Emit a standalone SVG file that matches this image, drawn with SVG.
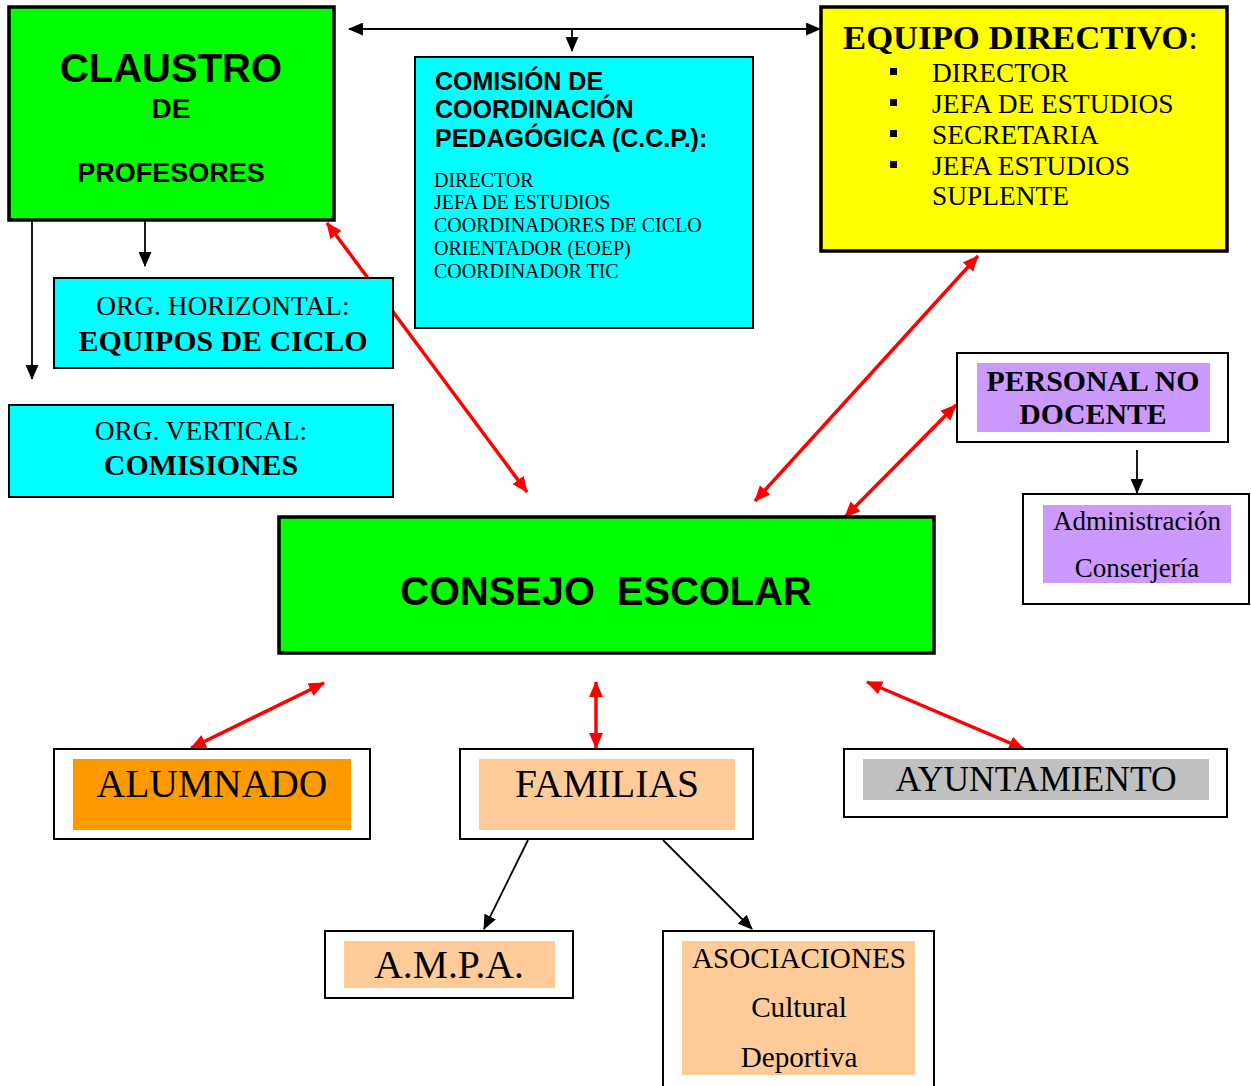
<svg xmlns="http://www.w3.org/2000/svg" width="1251" height="1086" viewBox="0 0 1251 1086">
<style>
.sans{font-family:"Liberation Sans",Arial,sans-serif;font-weight:bold;fill:#000}
.serif{font-family:"Liberation Serif","Times New Roman",serif;fill:#000}
.b{font-weight:bold}
.thick{stroke:#000;stroke-width:3.5}
.thin{stroke:#000;stroke-width:2}
.red{stroke:#ff0000;stroke-width:3.5;fill:none}
.blk{stroke:#000;stroke-width:1.8;fill:none}
</style>
<defs>
<marker id="ab" viewBox="0 0 14 12" refX="13" refY="6" markerWidth="15" markerHeight="13" markerUnits="userSpaceOnUse" orient="auto-start-reverse"><path d="M0,0 L14,6 L0,12 Z" fill="#000"/></marker>
<marker id="ar" viewBox="0 0 16 14" refX="15" refY="7" markerWidth="16" markerHeight="14" markerUnits="userSpaceOnUse" orient="auto-start-reverse"><path d="M0,0 L16,7 L0,14 Z" fill="#ff0000"/></marker>
</defs>
<rect width="1251" height="1086" fill="#fff"/>

<g id="connectors">
<line class="blk" x1="349" y1="29" x2="820" y2="29" marker-start="url(#ab)" marker-end="url(#ab)"/>
<line class="blk" x1="572" y1="29" x2="572" y2="51" marker-end="url(#ab)"/>
<line class="blk" x1="32" y1="221" x2="32" y2="379" marker-end="url(#ab)"/>
<line class="blk" x1="145" y1="221" x2="145" y2="266" marker-end="url(#ab)"/>
<line class="blk" x1="1137" y1="450" x2="1137" y2="493" marker-end="url(#ab)"/>
<line class="blk" x1="528" y1="840" x2="484" y2="929" marker-end="url(#ab)"/>
<line class="blk" x1="663" y1="840" x2="752" y2="929" marker-end="url(#ab)"/>
<line class="red" x1="327" y1="223" x2="527" y2="492" marker-start="url(#ar)" marker-end="url(#ar)"/>
<line class="red" x1="978" y1="256" x2="755" y2="501" marker-start="url(#ar)" marker-end="url(#ar)"/>
<line class="red" x1="956" y1="405" x2="845" y2="517" marker-start="url(#ar)" marker-end="url(#ar)"/>
<line class="red" x1="324" y1="683" x2="191" y2="748" marker-start="url(#ar)" marker-end="url(#ar)"/>
<line class="red" x1="596" y1="682" x2="596" y2="748" marker-start="url(#ar)" marker-end="url(#ar)"/>
<line class="red" x1="867" y1="682" x2="1024" y2="749" marker-start="url(#ar)" marker-end="url(#ar)"/>
</g>

<g id="claustro">
<rect class="thick" x="9" y="7" width="325" height="213" fill="#00ff00"/>
<text class="sans" x="171" y="82" font-size="40" text-anchor="middle">CLAUSTRO</text>
<text class="sans" x="171" y="118" font-size="28" text-anchor="middle">DE</text>
<text class="sans" x="171" y="182" font-size="27" text-anchor="middle">PROFESORES</text>
</g>

<g id="ccp">
<rect class="thin" x="415" y="57" width="338" height="271" fill="#00ffff"/>
<text class="sans" font-size="25"><tspan x="435" y="90">COMISIÓN DE</tspan><tspan x="435" y="118">COORDINACIÓN</tspan><tspan x="435" y="147">PEDAGÓGICA (C.C.P.):</tspan></text>
<text class="serif" font-size="20"><tspan x="434" y="187">DIRECTOR</tspan><tspan x="434" y="209">JEFA DE ESTUDIOS</tspan><tspan x="434" y="232">COORDINADORES DE CICLO</tspan><tspan x="434" y="255">ORIENTADOR (EOEP)</tspan><tspan x="434" y="278">COORDINADOR TIC</tspan></text>
</g>

<g id="equipo-directivo">
<rect class="thick" x="821" y="7" width="406" height="244" fill="#ffff00"/>
<text class="serif" x="843" y="49" font-size="34.7"><tspan class="b">EQUIPO DIRECTIVO</tspan>:</text>
<g fill="#000"><rect x="890" y="68" width="7" height="7"/><rect x="890" y="99" width="7" height="7"/><rect x="890" y="130" width="7" height="7"/><rect x="890" y="161" width="7" height="7"/></g>
<text class="serif" font-size="27.4"><tspan x="932" y="82">DIRECTOR</tspan><tspan x="932" y="113">JEFA DE ESTUDIOS</tspan><tspan x="932" y="144">SECRETARIA</tspan><tspan x="932" y="175">JEFA ESTUDIOS</tspan><tspan x="932" y="205">SUPLENTE</tspan></text>
</g>

<g id="org-horizontal">
<rect class="thin" x="54" y="278" width="339" height="90" fill="#00ffff"/>
<text class="serif" x="223" y="315" font-size="27.4" text-anchor="middle">ORG. HORIZONTAL:</text>
<text class="serif b" x="223" y="351" font-size="29.9" text-anchor="middle">EQUIPOS DE CICLO</text>
</g>

<g id="org-vertical">
<rect class="thin" x="9" y="405" width="384" height="92" fill="#00ffff"/>
<text class="serif" x="201" y="440" font-size="27.4" text-anchor="middle">ORG. VERTICAL:</text>
<text class="serif b" x="201" y="475" font-size="29.9" text-anchor="middle">COMISIONES</text>
</g>

<g id="personal-no-docente">
<rect class="thin" x="957" y="353" width="271" height="89" fill="#fff"/>
<rect x="977" y="363" width="233" height="69" fill="#cc99ff"/>
<text class="serif b" font-size="29.8" text-anchor="middle"><tspan x="1093" y="391">PERSONAL NO</tspan><tspan x="1093" y="424">DOCENTE</tspan></text>
</g>

<g id="administracion">
<rect class="thin" x="1023" y="494" width="226" height="110" fill="#fff"/>
<rect x="1043" y="505" width="188" height="78" fill="#cc99ff"/>
<text class="serif" font-size="27" text-anchor="middle"><tspan x="1137" y="530">Administración</tspan><tspan x="1137" y="577">Conserjería</tspan></text>
</g>

<g id="consejo-escolar">
<rect class="thick" x="279" y="517" width="655" height="136" fill="#00ff00"/>
<text class="sans" x="606" y="605" font-size="39.8" text-anchor="middle" style="white-space:pre">CONSEJO  ESCOLAR</text>
</g>

<g id="alumnado">
<rect class="thin" x="54" y="749" width="316" height="90" fill="#fff"/>
<rect x="73" y="759" width="278" height="71" fill="#ff9900"/>
<text class="serif" x="212" y="797" font-size="39.6" text-anchor="middle">ALUMNADO</text>
</g>

<g id="familias">
<rect class="thin" x="460" y="749" width="293" height="90" fill="#fff"/>
<rect x="479" y="759" width="256" height="71" fill="#ffcc99"/>
<text class="serif" x="607" y="797" font-size="39.6" text-anchor="middle">FAMILIAS</text>
</g>

<g id="ayuntamiento">
<rect class="thin" x="844" y="749" width="383" height="68" fill="#fff"/>
<rect x="863" y="759" width="346" height="41" fill="#c0c0c0"/>
<text class="serif" x="1036" y="791" font-size="35.5" text-anchor="middle">AYUNTAMIENTO</text>
</g>

<g id="ampa">
<rect class="thin" x="325" y="931" width="248" height="67" fill="#fff"/>
<rect x="344" y="941" width="211" height="47" fill="#ffcc99"/>
<text class="serif" x="449" y="978" font-size="39.6" text-anchor="middle">A.M.P.A.</text>
</g>

<g id="asociaciones">
<rect class="thin" x="663" y="931" width="271" height="160" fill="#fff"/>
<rect x="682" y="941" width="233" height="134" fill="#ffcc99"/>
<text class="serif" font-size="29.2" text-anchor="middle"><tspan x="799" y="968">ASOCIACIONES</tspan><tspan x="799" y="1017">Cultural</tspan><tspan x="799" y="1067">Deportiva</tspan></text>
</g>
</svg>
